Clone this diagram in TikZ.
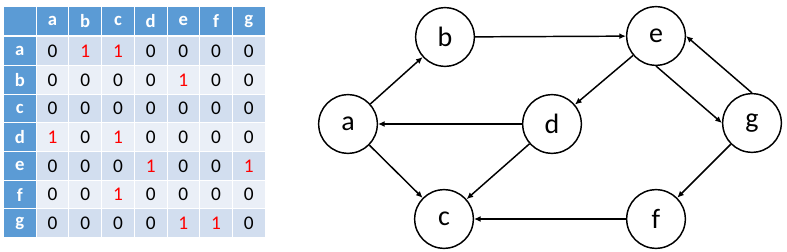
\documentclass[tikz,border=0pt]{standalone}
\usepackage{fontspec}
\setmainfont{Carlito}
\usetikzlibrary{arrows.meta}
\definecolor{hdrblue}{RGB}{91,155,213}
\definecolor{banddark}{RGB}{210,222,239}
\definecolor{bandlight}{RGB}{234,239,247}
\tikzset{every picture/.style={line width=0.75pt}}
\tikzset{
  vertex/.style={draw, circle, line width=1.1pt, minimum size=44pt, inner sep=0pt, font=\fontsize{21}{21}\selectfont},
  edge/.style={line width=1.1pt, -{Latex[length=5pt,width=4.5pt]}},
  hdrtext/.style={text=white, inner sep=0pt, font=\fontsize{14}{14}\selectfont\bfseries},
  cellval/.style={inner sep=0pt, font=\fontsize{14.5}{14.5}\selectfont},
}

\begin{document}
\begin{tikzpicture}[x=0.75pt,y=0.75pt,yscale=-1,xscale=1]
\useasboundingbox (0,0) rectangle (787,252);

%Table: header row
\fill[hdrblue] (4,7) rectangle (35.7,35);
\foreach \lab [count=\j] in {a,b,c,d,e,f,g} {
  \fill[hdrblue] ({4+32.7*\j},7) rectangle ({35.7+32.7*\j},35);
  \node[hdrtext] (h\lab) at ({19.85+32.7*\j},21) {\lab};
}

%Table: body rows
\foreach \lab/\band/\vals [count=\i] in {a/banddark/{0,1,1,0,0,0,0}, b/bandlight/{0,0,0,0,1,0,0}, c/banddark/{0,0,0,0,0,0,0}, d/bandlight/{1,0,1,0,0,0,0}, e/banddark/{0,0,0,1,0,0,1}, f/bandlight/{0,0,1,0,0,0,0}, g/banddark/{0,0,0,0,1,1,0}} {
  \pgfmathsetmacro{\rowtop}{37.3+28.7*(\i-1)}
  \fill[hdrblue] (4,\rowtop) rectangle (35.7,{\rowtop+27.7});
  \node[hdrtext] (r\lab) at (19.85,{\rowtop+13.85}) {\lab};
  \foreach \v [count=\j] in \vals {
    \ifnum\v=1 \def\valcol{red}\else\def\valcol{black}\fi
    \fill[fill=\band] ({4+32.7*\j},\rowtop) rectangle ({35.7+32.7*\j},{\rowtop+27.7});
    \node[cellval, text=\valcol] (c\lab\j) at ({19.85+32.7*\j},{\rowtop+13.85}) {\v};
  }
}

%Graph: vertices
\node[vertex] (a) at (348,124) {a};
\node[vertex] (b) at (445,37) {b};
\node[vertex] (c) at (444,219) {c};
\node[vertex] (d) at (552,124) {d};
\node[vertex] (e) at (656,36) {e};
\node[vertex] (f) at (656,219) {f};
\node[vertex] (g) at (752,123) {g};

%Graph: edges
\draw[edge] (a) -- (b);
\draw[edge] (a) -- (c);
\draw[edge] (b) -- (e);
\draw[edge] (d) -- (a);
\draw[edge] (d) -- (c);
\draw[edge] (e) -- (d);
\draw[edge] (e.south) -- (g.west);
\draw[edge] (g.north) -- (e.east);
\draw[edge] (g) -- (f);
\draw[edge] (f) -- (c);

\end{tikzpicture}
\end{document}
